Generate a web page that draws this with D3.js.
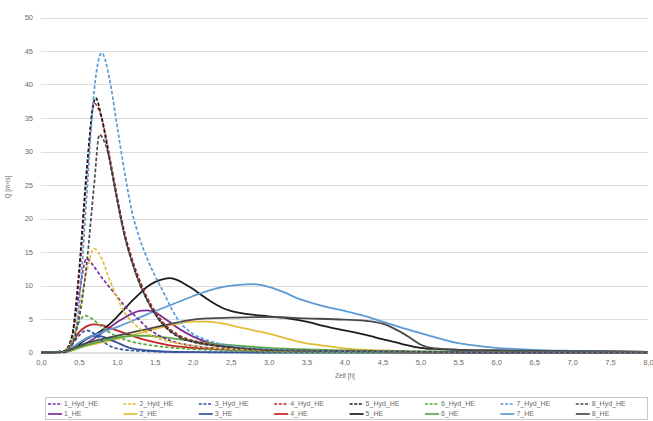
<!DOCTYPE html>
<html>
<head>
<meta charset="utf-8">
<script src="https://cdn.jsdelivr.net/npm/d3@7"></script>
<style>
  body { margin: 0; background: #fff; }
  svg { display: block; font-family: "Liberation Sans", Arial, sans-serif; }
</style>
</head>
<body>
<svg id="chart" width="653" height="421"></svg>
<script>
"use strict";

// catchment numbers and colours
const catchments = ["1", "2", "3", "4", "5", "6", "7", "8"];
const colors = ["#7b2f95", "#e3bd3a", "#34549d", "#c8231f", "#1c1c1c", "#5aa845", "#5b9bd5", "#4a4a4a"];

const yTicks = [0, 5, 10, 15, 20, 25, 30, 35, 40, 45, 50];
const xTicks = [0, 0.5, 1, 1.5, 2, 2.5, 3, 3.5, 4, 4.5, 5, 5.5, 6, 6.5, 7, 7.5, 8];

// hydrographs [t in h, Q in m3/s]
const hyd1 = [[0,0],[0.3,0.1],[0.4,2],[0.5,8.5],[0.6,14],[0.7,12.8],[0.8,11.2],[0.9,9.8],[1.0,8.4],[1.1,7],[1.2,5.9],[1.3,4.8],[1.4,3.7],[1.5,2.9],[1.7,1.8],[2.0,1],[2.5,0.5],[3,0.2],[4,0.1],[5,0],[8,0]];
const hyd2 = [[0,0],[0.3,0.1],[0.4,1.5],[0.5,6],[0.6,12],[0.7,15.5],[0.8,14],[0.9,11],[1.0,8.3],[1.1,6],[1.2,4.6],[1.3,3.6],[1.5,2.3],[1.7,1.6],[2.0,1],[2.5,0.5],[3,0.3],[4,0.1],[5,0],[8,0]];
const hyd3 = [[0,0],[0.3,0.1],[0.4,1],[0.5,2.5],[0.6,3.3],[0.7,2.8],[0.8,1.8],[0.9,1],[1.0,0.6],[1.2,0.3],[1.5,0.15],[2,0.05],[3,0],[8,0]];
const hyd4 = [[0,0],[0.3,0.2],[0.4,2],[0.5,11],[0.6,26],[0.7,37.2],[0.8,35],[0.9,29.5],[1.0,23.5],[1.1,18],[1.2,14],[1.3,10.8],[1.4,8.2],[1.5,6.2],[1.6,4.6],[1.8,2.7],[2.0,1.8],[2.3,1.1],[2.6,0.7],[3,0.4],[4,0.2],[5,0.1],[6,0],[8,0]];
const hyd5 = [[0,0],[0.3,0.2],[0.4,2],[0.5,12],[0.6,27],[0.7,37.5],[0.72,38],[0.8,35],[0.9,29],[1.0,23],[1.1,17.5],[1.2,13.5],[1.3,10.3],[1.4,7.8],[1.5,5.8],[1.6,4.3],[1.8,2.4],[2.0,1.6],[2.3,1],[2.6,0.7],[3,0.4],[4,0.2],[5,0.1],[6,0],[8,0]];
const hyd6 = [[0,0],[0.3,0.1],[0.4,1.5],[0.5,4.5],[0.58,5.5],[0.7,4.8],[0.8,3.8],[0.9,3],[1.0,2.4],[1.2,1.6],[1.5,1],[2.0,0.5],[2.5,0.3],[3,0.1],[4,0],[8,0]];
const hyd7 = [[0,0],[0.3,0],[0.4,1],[0.5,7],[0.6,23],[0.7,39],[0.8,44.7],[0.9,41],[1.0,34],[1.1,27],[1.2,21],[1.3,17],[1.4,14],[1.5,11.5],[1.6,9.3],[1.7,7],[1.8,5],[2.0,2.8],[2.2,1.8],[2.5,1],[3,0.5],[4,0.2],[5,0.1],[6,0],[8,0]];
const hyd8 = [[0,0],[0.3,0],[0.4,1],[0.5,5],[0.6,13],[0.7,25],[0.77,32.5],[0.85,31],[0.9,29],[1.0,23],[1.1,17.5],[1.2,13.5],[1.3,10.3],[1.4,7.8],[1.5,5.8],[1.6,4.3],[1.8,2.5],[2.0,1.6],[2.5,0.8],[3,0.4],[4,0.2],[5,0.1],[6,0],[8,0]];

const he1 = [[0,0],[0.3,0.05],[0.4,0.3],[0.5,0.8],[0.6,1.4],[0.7,2.1],[0.8,2.9],[0.9,3.7],[1.0,4.5],[1.1,5.2],[1.2,5.8],[1.3,6.2],[1.4,6.3],[1.5,6.0],[1.6,5.3],[1.7,4.5],[1.8,3.7],[1.9,3.0],[2.0,2.4],[2.2,1.5],[2.4,1.0],[2.6,0.7],[3.0,0.35],[3.5,0.15],[4,0.05],[8,0]];
const he2 = [[0,0],[0.3,0.05],[0.4,0.3],[0.5,0.7],[0.6,1],[0.8,1.5],[1.0,2.0],[1.2,2.6],[1.4,3.2],[1.6,3.8],[1.8,4.3],[2.0,4.6],[2.2,4.6],[2.4,4.3],[2.6,3.8],[2.8,3.3],[3.0,2.8],[3.2,2.2],[3.4,1.6],[3.6,1.2],[3.8,0.9],[4.0,0.6],[4.5,0.3],[5,0.15],[6,0.05],[8,0]];
const he3 = [[0,0],[0.3,0.1],[0.4,0.6],[0.5,1.4],[0.6,2.1],[0.7,2.5],[0.8,2.4],[0.9,2.0],[1.0,1.5],[1.1,1.0],[1.2,0.6],[1.4,0.3],[1.6,0.15],[2,0.05],[3,0],[8,0]];
const he4 = [[0,0],[0.3,0.1],[0.4,1.2],[0.5,3.0],[0.6,3.9],[0.7,4.2],[0.8,4.1],[0.9,3.7],[1.0,3.3],[1.1,2.9],[1.2,2.5],[1.3,2.1],[1.4,1.8],[1.6,1.3],[1.8,0.9],[2.0,0.7],[2.5,0.4],[3,0.2],[4,0.1],[5,0],[8,0]];
const he5 = [[0,0],[0.3,0.1],[0.4,0.5],[0.5,1.2],[0.6,2],[0.7,2.6],[0.8,3.3],[0.9,4.2],[1.0,5.3],[1.1,6.5],[1.2,7.7],[1.3,8.8],[1.4,9.8],[1.5,10.5],[1.6,10.9],[1.7,11.1],[1.8,10.8],[1.9,10.2],[2.0,9.5],[2.1,8.7],[2.2,7.9],[2.3,7.2],[2.4,6.6],[2.5,6.2],[2.75,5.7],[3.0,5.4],[3.25,5.1],[3.5,4.6],[3.75,3.9],[4.0,3.3],[4.25,2.7],[4.5,2.0],[4.75,1.3],[5.0,0.7],[5.25,0.5],[5.5,0.4],[6,0.3],[7,0.2],[8,0.1]];
const he6 = [[0,0],[0.3,0.05],[0.4,0.3],[0.5,0.7],[0.6,1.1],[0.8,1.7],[1.0,2.2],[1.2,2.5],[1.4,2.5],[1.6,2.3],[1.8,2.0],[2.0,1.7],[2.2,1.4],[2.5,1.1],[3.0,0.7],[3.5,0.45],[4,0.3],[5,0.15],[6,0.1],[8,0]];
const he7 = [[0,0],[0.3,0.1],[0.4,0.6],[0.5,1.4],[0.6,2.1],[0.8,3.0],[1.0,3.8],[1.2,4.7],[1.4,5.7],[1.6,6.6],[1.8,7.5],[2.0,8.4],[2.2,9.2],[2.4,9.8],[2.6,10.1],[2.8,10.2],[3.0,9.8],[3.2,9.0],[3.4,8.0],[3.6,7.3],[3.8,6.7],[4.0,6.2],[4.25,5.5],[4.5,4.6],[4.75,3.7],[5.0,2.9],[5.25,2.1],[5.5,1.4],[5.75,1.0],[6.0,0.7],[6.5,0.4],[7,0.25],[7.5,0.15],[8,0.1]];
const he8 = [[0,0],[0.3,0.1],[0.4,0.5],[0.5,1],[0.6,1.4],[0.8,2.0],[1.0,2.5],[1.2,3.0],[1.4,3.5],[1.6,4.0],[1.8,4.5],[2.0,4.9],[2.2,5.1],[2.5,5.2],[3.0,5.3],[3.5,5.1],[4.0,4.9],[4.3,4.7],[4.5,4.3],[4.7,3.3],[4.85,2.3],[5.0,1.2],[5.2,0.6],[5.5,0.4],[6,0.3],[7,0.2],[8,0.1]];

const hydSeries = [hyd1, hyd2, hyd3, hyd4, hyd5, hyd6, hyd7, hyd8];
const heSeries = [he1, he2, he3, he4, he5, he6, he7, he8];

const svg = d3.select("#chart");
const x = d3.scaleLinear().domain([0, 8]).range([41, 648]);
const y = d3.scaleLinear().domain([0, 50]).range([352.5, 17.5]);
const fmt = (d) => d3.format(".1f")(d).replace(".", ",");

// gridlines
svg.append("g")
  .selectAll("line")
  .data(yTicks.filter((d) => d > 0))
  .join("line")
  .attr("x1", x(0)).attr("x2", x(8))
  .attr("y1", (d) => Math.round(y(d)) + 0.5).attr("y2", (d) => Math.round(y(d)) + 0.5)
  .attr("stroke", "#dcdcdc").attr("stroke-width", 1);

// axes
const yAxis = svg.append("g")
  .attr("transform", "translate(" + x(0) + ",0)")
  .call(d3.axisLeft(y).tickValues(yTicks).tickSize(0).tickPadding(8));
yAxis.select(".domain").remove();

const xAxis = svg.append("g")
  .attr("transform", "translate(0," + y(0) + ")")
  .call(d3.axisBottom(x).tickValues(xTicks).tickFormat(fmt).tickSize(0).tickPadding(7));
xAxis.select(".domain").attr("stroke", "#c4c4c4");

svg.selectAll(".tick text").attr("fill", "#6b6b6b").style("font-size", "7.5px");

// axis titles
svg.append("text")
  .attr("transform", "translate(10," + (y(25) + 2) + ") rotate(-90)")
  .attr("text-anchor", "middle")
  .attr("fill", "#6b6b6b").style("font-size", "6.5px")
  .text("Q [m³/s]");

svg.append("text")
  .attr("x", 345).attr("y", 378)
  .attr("text-anchor", "middle")
  .attr("fill", "#6b6b6b").style("font-size", "6.5px")
  .text("Zeit [h]");

// curves
const line = d3.line()
  .x((d) => x(d[0]))
  .y((d) => y(d[1]))
  .curve(d3.curveMonotoneX);

const plot = svg.append("g");

heSeries.forEach((s, i) => {
  plot.append("path")
    .attr("d", line(s))
    .attr("fill", "none")
    .attr("stroke", colors[i])
    .attr("stroke-width", 1.8);
});

hydSeries.forEach((s, i) => {
  plot.append("path")
    .attr("d", line(s))
    .attr("fill", "none")
    .attr("stroke", colors[i])
    .attr("stroke-width", 1.7)
    .attr("stroke-dasharray", "3.5,2");
});

// legend
const legend = svg.append("g");
legend.append("rect")
  .attr("x", 45.5).attr("y", 397.5)
  .attr("width", 602).attr("height", 22)
  .attr("fill", "#fff")
  .attr("stroke", "#c9c9b8");

const colX = (i) => 48 + i * 75.4;

catchments.forEach((c, i) => {
  [c + "_Hyd_HE", c + "_HE"].forEach((label, row) => {
    const ly = 404 + row * 10;
    legend.append("line")
      .attr("x1", colX(i)).attr("x2", colX(i) + 14)
      .attr("y1", ly).attr("y2", ly)
      .attr("stroke", colors[i])
      .attr("stroke-width", 1.7)
      .attr("stroke-dasharray", row === 0 ? "3,1.6" : null);
    legend.append("text")
      .attr("x", colX(i) + 16).attr("y", ly + 2.4)
      .attr("fill", "#6b6b6b").style("font-size", "7px")
      .text(label);
  });
});
</script>
</body>
</html>
